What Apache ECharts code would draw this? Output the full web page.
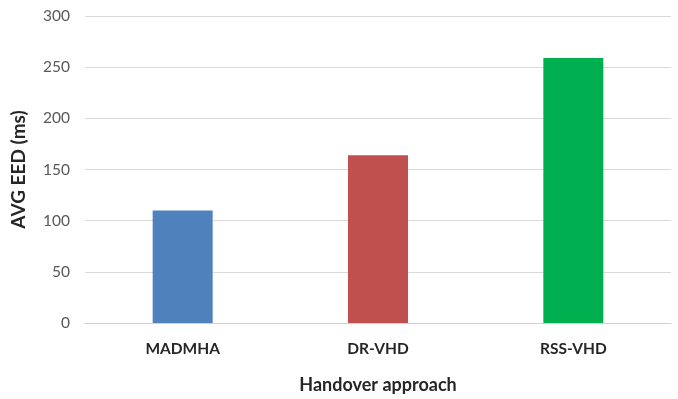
<!DOCTYPE html>
<html>
<head>
<meta charset="utf-8">
<script src="https://cdn.jsdelivr.net/npm/echarts@6/dist/echarts.min.js"></script>
<style>
  html, body { margin: 0; padding: 0; background: #fff; }
  #chart { width: 678px; height: 399px; }
</style>
</head>
<body>
<div id="chart"></div>
<script>
// Average end-to-end delay per handover approach
const categories = ['MADMHA', 'DR-VHD', 'RSS-VHD'];
const avgEed = [110, 164, 259];
const barColors = ['#4F81BD', '#C0504D', '#00B050'];
const yTicks = { min: 0, max: 300, interval: 50 };

const FONT = 'Lato, "Open Sans", sans-serif';

const chart = echarts.init(document.getElementById('chart'), null, { renderer: 'canvas' });
chart.setOption({
  animation: false,
  backgroundColor: '#ffffff',
  grid: { left: 85, right: 7, top: 16, bottom: 67, containLabel: false },
  xAxis: {
    type: 'category',
    data: categories,
    name: 'Handover approach',
    nameLocation: 'middle',
    nameGap: 53,
    nameTextStyle: { fontFamily: FONT, fontSize: 18, fontWeight: 'bold', color: '#262626' },
    axisLine: { show: true, lineStyle: { color: '#d0d0d0', width: 1 } },
    axisTick: { show: false },
    axisLabel: { fontFamily: FONT, fontSize: 15.5, fontWeight: 'bold', color: '#262626', margin: 18 }
  },
  yAxis: {
    type: 'value',
    min: yTicks.min,
    max: yTicks.max,
    interval: yTicks.interval,
    name: 'AVG EED (ms)',
    nameLocation: 'middle',
    nameGap: 57,
    nameRotate: 90,
    nameTextStyle: { fontFamily: FONT, fontSize: 19, fontWeight: 'bold', color: '#262626' },
    axisLine: { show: false },
    axisTick: { show: false },
    axisLabel: { fontFamily: FONT, fontSize: 15.5, color: '#595959', margin: 15 },
    splitLine: { lineStyle: { color: '#d9d9d9', width: 1 } }
  },
  series: [{
    type: 'bar',
    data: avgEed.map((v, i) => ({ value: v, itemStyle: { color: barColors[i] } })),
    barWidth: 60
  }]
});
</script>
</body>
</html>
